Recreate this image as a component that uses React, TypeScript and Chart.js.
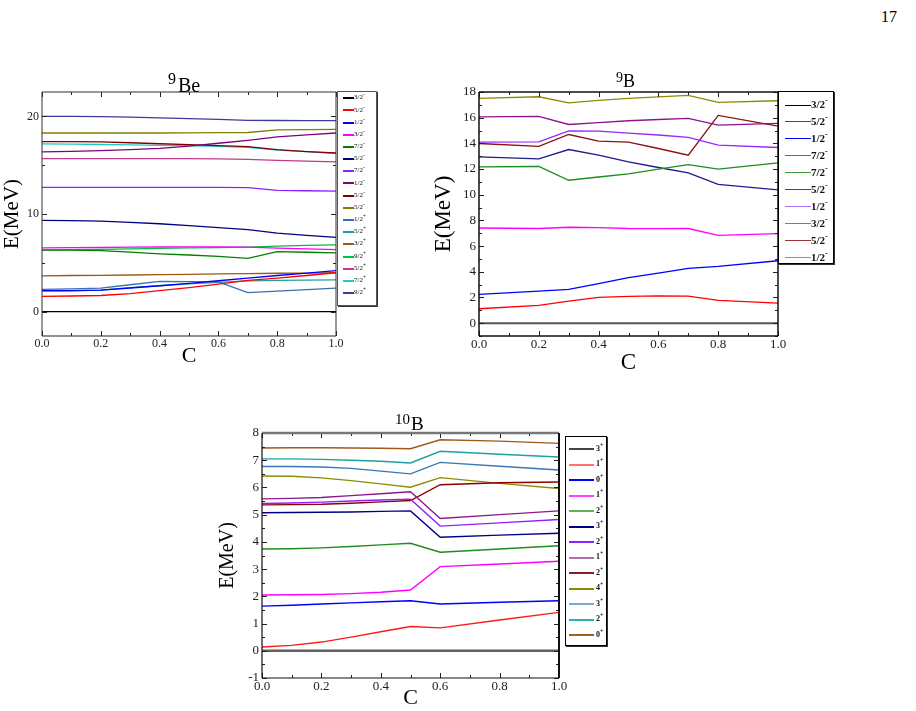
import React, { useEffect, useRef } from 'react';
import { Chart, registerables } from 'chart.js';

Chart.register(...registerables);

const SERIF = '"Liberation Serif", "Times New Roman", serif';

// ---------- 9Be levels ----------
const beC = [0, 0.1, 0.2, 0.3, 0.4, 0.5, 0.6, 0.7, 0.8, 0.9, 1.0];
const beLabels = ['3/2', '5/2', '1/2', '3/2', '7/2', '5/2', '7/2', '1/2', '5/2', '5/2', '1/2', '5/2', '3/2', '9/2', '5/2', '7/2', '9/2'];
const beParity = ['-', '-', '-', '-', '-', '-', '-', '-', '-', '-', '+', '+', '+', '+', '+', '+', '+'];
const beColors = ['#000000', '#ff0000', '#0000ff', '#ff00ff', '#008000', '#000080', '#8f1fff', '#800080', '#800000', '#808000', '#3a70b0', '#20a0a0', '#a0560f', '#00c040', '#c03c8c', '#20c8c8', '#3c3c9c'];
const be32m = [0, 0, 0, 0, 0, 0, 0, 0, 0, 0, 0];
const be52m = [1.57, 1.6, 1.65, 1.85, 2.14, 2.45, 2.82, 3.2, 3.43, 3.7, 3.98];
const be12m = [2.14, 2.15, 2.2, 2.42, 2.65, 2.9, 3.16, 3.43, 3.7, 3.95, 4.2];
const be32mB = [6.53, 6.55, 6.57, 6.6, 6.62, 6.63, 6.63, 6.6, 6.5, 6.42, 6.35];
const be72m = [6.3, 6.3, 6.25, 6.1, 5.92, 5.8, 5.65, 5.45, 6.15, 6.08, 6.02];
const be52mB = [9.35, 9.33, 9.28, 9.15, 9.0, 8.8, 8.6, 8.4, 8.05, 7.8, 7.6];
const be72mB = [12.72, 12.72, 12.72, 12.72, 12.72, 12.72, 12.72, 12.7, 12.42, 12.38, 12.35];
const be12mB = [16.36, 16.42, 16.5, 16.6, 16.72, 16.95, 17.25, 17.55, 17.9, 18.1, 18.3];
const be52mC = [17.42, 17.42, 17.38, 17.3, 17.2, 17.1, 17.0, 16.9, 16.6, 16.4, 16.25];
const be52mD = [18.3, 18.3, 18.3, 18.3, 18.3, 18.32, 18.34, 18.35, 18.62, 18.65, 18.68];
const be12p = [2.28, 2.32, 2.4, 2.75, 3.1, 3.08, 3.05, 1.95, 2.1, 2.25, 2.4];
const be52p = [2.1, 2.12, 2.2, 2.45, 2.65, 2.85, 3.0, 3.15, 3.2, 3.23, 3.26];
const be32p = [3.67, 3.7, 3.72, 3.75, 3.78, 3.82, 3.86, 3.9, 3.93, 3.95, 3.98];
const be92p = [6.33, 6.35, 6.38, 6.42, 6.47, 6.52, 6.56, 6.6, 6.7, 6.78, 6.84];
const be52pB = [15.68, 15.68, 15.68, 15.68, 15.68, 15.68, 15.64, 15.6, 15.5, 15.42, 15.34];
const be72p = [17.18, 17.16, 17.12, 17.08, 17.04, 17.0, 16.92, 16.84, 16.55, 16.4, 16.22];
const be92pB = [20.0, 20.0, 19.98, 19.92, 19.85, 19.78, 19.7, 19.6, 19.58, 19.57, 19.56];
const beSeries = [be32m, be52m, be12m, be32mB, be72m, be52mB, be72mB, be12mB, be52mC, be52mD, be12p, be52p, be32p, be92p, be52pB, be72p, be92pB];
const beYTicks = [0, 10, 20];

// ---------- 9B levels ----------
const bC = [0, 0.2, 0.3, 0.4, 0.5, 0.6, 0.7, 0.8, 1.0];
const bLabels = ['3/2', '5/2', '1/2', '7/2', '7/2', '5/2', '1/2', '3/2', '5/2', '1/2'];
const bParity = ['-', '-', '-', '-', '-', '-', '-', '-', '-', '-'];
const bColors = ['#555555', '#ff0000', '#0000ff', '#ff00ff', '#1e8c1e', '#1c1c8c', '#9628ff', '#8c148c', '#8c1010', '#8c8c00'];
const bLegendColors = ['#000000', '#ff0000', '#0000ff', '#ff00ff', '#3a9a3a', '#4040a0', '#b070ff', '#a860a8', '#a03030', '#a0a020'];
const b32m = [0, 0, 0, 0, 0, 0, 0, 0, 0];
const b52m = [1.12, 1.38, 1.72, 2.0, 2.08, 2.12, 2.1, 1.77, 1.56];
const b12m = [2.24, 2.5, 2.63, 3.08, 3.54, 3.9, 4.27, 4.42, 4.86];
const b72m = [7.41, 7.37, 7.47, 7.44, 7.37, 7.36, 7.37, 6.84, 6.97];
const b72mB = [12.17, 12.2, 11.13, 11.38, 11.62, 12.0, 12.35, 11.99, 12.48];
const b52mB = [12.95, 12.8, 13.52, 13.08, 12.56, 12.12, 11.7, 10.8, 10.38];
const b12mB = [14.1, 14.12, 14.98, 14.95, 14.8, 14.65, 14.46, 13.86, 13.68];
const b32mB = [16.07, 16.1, 15.47, 15.62, 15.76, 15.86, 15.94, 15.42, 15.55];
const b52mC = [13.99, 13.76, 14.69, 14.17, 14.1, 13.6, 13.08, 16.18, 15.34];
const b12mC = [17.5, 17.63, 17.16, 17.35, 17.5, 17.62, 17.73, 17.19, 17.32];
const bSeries = [b32m, b52m, b12m, b72m, b72mB, b52mB, b12mB, b32mB, b52mC, b12mC];
const bYTicks = [0, 2, 4, 6, 8, 10, 12, 14, 16, 18];

// ---------- 10B levels ----------
const tC = [0, 0.1, 0.2, 0.3, 0.4, 0.5, 0.6, 0.8, 1.0];
const tLabels = ['3', '1', '0', '1', '2', '3', '2', '1', '2', '4', '3', '2', '0'];
const tParity = ['+', '+', '+', '+', '+', '+', '+', '+', '+', '+', '+', '+', '+'];
const tColors = ['#606060', '#ff1a1a', '#0000ff', '#ff00ff', '#1e8c1e', '#000080', '#8f1fff', '#8c1a8c', '#8b0000', '#8c8c00', '#3a78b4', '#20a0a0', '#9c5a1e'];
const tLegendColors = ['#444444', '#ff7070', '#0000ff', '#ff40ff', '#60b060', '#000080', '#8f1fff', '#b070b0', '#8b2020', '#8c8c00', '#80a8d0', '#30b0b0', '#a0601e'];
const t3p = [0, 0, 0, 0, 0, 0, 0, 0, 0];
const t1p = [0.14, 0.2, 0.32, 0.5, 0.7, 0.89, 0.84, 1.13, 1.41];
const t0p = [1.64, 1.67, 1.72, 1.76, 1.8, 1.84, 1.72, 1.78, 1.84];
const t1pB = [2.05, 2.06, 2.07, 2.1, 2.15, 2.23, 3.09, 3.19, 3.29];
const t2p = [3.74, 3.75, 3.78, 3.83, 3.89, 3.95, 3.62, 3.74, 3.86];
const t3pB = [5.07, 5.08, 5.09, 5.1, 5.12, 5.14, 4.17, 4.25, 4.32];
const t2pB = [5.41, 5.43, 5.46, 5.5, 5.54, 5.57, 4.58, 4.7, 4.82];
const t1pC = [5.58, 5.6, 5.63, 5.7, 5.77, 5.84, 4.86, 5.0, 5.14];
const t2pC = [5.36, 5.37, 5.38, 5.42, 5.47, 5.52, 6.1, 6.17, 6.2];
const t4p = [6.42, 6.41, 6.35, 6.25, 6.13, 6.01, 6.36, 6.15, 5.96];
const t3pC = [6.77, 6.77, 6.75, 6.7, 6.6, 6.5, 6.92, 6.78, 6.64];
const t2pD = [7.05, 7.05, 7.03, 7.0, 6.96, 6.9, 7.33, 7.22, 7.12];
const t0pB = [7.45, 7.46, 7.46, 7.45, 7.44, 7.42, 7.75, 7.7, 7.62];
const tSeries = [t3p, t1p, t0p, t1pB, t2p, t3pB, t2pB, t1pC, t2pC, t4p, t3pC, t2pD, t0pB];
const tYTicks = [-1, 0, 1, 2, 3, 4, 5, 6, 7, 8];

const xTicks = [0, 0.2, 0.4, 0.6, 0.8, 1.0];

// Plot frame with inward major/minor tick marks on all four sides
const framePlugin = {
  id: 'frame',
  afterDatasetsDraw(chart: any, _args: any, o: any) {
    const { ctx, chartArea: a } = chart;
    const xs = chart.scales.x;
    const ys = chart.scales.y;
    ctx.save();
    ctx.strokeStyle = '#222';
    ctx.lineWidth = 1;
    const xMajor: number[] = xs.ticks.map((t: any) => t.value);
    const yMajor: number[] = ys.ticks.map((t: any) => t.value);
    const minors = (arr: number[], lo: number, hi: number) => {
      const out: number[] = [];
      const step = arr[1] - arr[0];
      for (let v = arr[0] - step / 2; v <= hi + 1e-9; v += step) if (v >= lo - 1e-9) out.push(v);
      return out;
    };
    const xMinor = minors(xMajor, xs.min, xs.max);
    const yMinor = minors(yMajor, ys.min, ys.max);
    ctx.beginPath();
    const xt = (v: number, len: number) => {
      const p = Math.round(xs.getPixelForValue(v)) + 0.5;
      ctx.moveTo(p, a.bottom); ctx.lineTo(p, a.bottom - len);
      ctx.moveTo(p, a.top); ctx.lineTo(p, a.top + len);
    };
    const yt = (v: number, len: number) => {
      const p = Math.round(ys.getPixelForValue(v)) + 0.5;
      ctx.moveTo(a.left, p); ctx.lineTo(a.left + len, p);
      ctx.moveTo(a.right, p); ctx.lineTo(a.right - len, p);
    };
    xMajor.forEach((v) => xt(v, 5));
    xMinor.forEach((v) => xt(v, 3));
    yMajor.forEach((v) => yt(v, 5));
    yMinor.forEach((v) => yt(v, 3));
    ctx.stroke();
    const side = (c: string, w: number, x1: number, y1: number, x2: number, y2: number) => {
      ctx.beginPath();
      ctx.strokeStyle = c;
      ctx.lineWidth = w;
      ctx.moveTo(x1, y1);
      ctx.lineTo(x2, y2);
      ctx.stroke();
    };
    const s = o.sides;
    side(s.top[0], s.top[1], a.left, a.top, a.right, a.top);
    side(s.bottom[0], s.bottom[1], a.left, a.bottom, a.right, a.bottom);
    side(s.left[0], s.left[1], a.left, a.top, a.left, a.bottom);
    side(s.right[0], s.right[1], a.right, a.top, a.right, a.bottom);
    ctx.restore();
  },
};

type PanelProps = {
  left: number; top: number; width: number; height: number;
  padTop: number; padRight: number; yWidth: number; xHeight: number;
  xs: number[]; series: number[][]; colors: string[]; widths: number[];
  yMin: number; yMax: number; yTicks: number[];
  tickSize: number; yTitleSize: number; yTitlePad: number; xTitleSize: number;
  sides: any;
};

function Panel(p: PanelProps) {
  const ref = useRef<HTMLCanvasElement>(null);
  useEffect(() => {
    if (!ref.current) return;
    const datasets = p.series.map((vals, i) => ({
      data: p.xs.map((x, j) => ({ x, y: vals[j] })),
      borderColor: p.colors[i],
      borderWidth: p.widths[i],
      pointRadius: 0,
      tension: 0,
      fill: false,
    }));
    const chart = new Chart(ref.current, {
      type: 'line',
      data: { datasets },
      plugins: [framePlugin],
      options: {
        animation: false,
        responsive: false,
        layout: { padding: { top: p.padTop, right: p.padRight, left: 0, bottom: 0 } },
        plugins: {
          legend: { display: false },
          tooltip: { enabled: false },
          frame: { sides: p.sides },
        } as any,
        scales: {
          x: {
            type: 'linear',
            min: 0,
            max: 1,
            afterBuildTicks: (s: any) => { s.ticks = xTicks.map((v) => ({ value: v })); },
            afterFit: (s: any) => { s.height = p.xHeight; },
            grid: { display: false, drawTicks: false },
            border: { display: false },
            ticks: {
              padding: 1,
              color: '#222',
              font: { family: SERIF, size: p.tickSize },
              maxRotation: 0,
              callback: (v: any) => Number(v).toFixed(1),
            },
            title: {
              display: true,
              text: 'C',
              color: '#000',
              font: { family: SERIF, size: p.xTitleSize, lineHeight: 1 },
              padding: { top: 0, bottom: 0 },
            },
          },
          y: {
            type: 'linear',
            min: p.yMin,
            max: p.yMax,
            afterBuildTicks: (s: any) => { s.ticks = p.yTicks.map((v) => ({ value: v })); },
            afterFit: (s: any) => { s.width = p.yWidth; },
            grid: { display: false, drawTicks: false },
            border: { display: false },
            ticks: {
              padding: 3,
              color: '#222',
              font: { family: SERIF, size: p.tickSize },
              callback: (v: any) => String(v),
            },
            title: {
              display: true,
              text: 'E(MeV)',
              color: '#000',
              font: { family: SERIF, size: p.yTitleSize, lineHeight: 1 },
              padding: { top: p.yTitlePad, bottom: 0 },
            },
          },
        },
      } as any,
    });
    return () => chart.destroy();
  }, []);
  return (
    <canvas
      ref={ref}
      width={p.width}
      height={p.height}
      style={{ position: 'absolute', left: p.left, top: p.top, width: p.width, height: p.height }}
    />
  );
}

type LegendProps = {
  left: number; top: number; width: number; height: number;
  rowTop: number; rowStep: number; lineX: number; lineW: number; textX: number;
  labels: string[]; parity: string[]; colors: string[];
  fontSize: number; bold?: boolean; lineWidth: number; border: string;
};

function Legend(l: LegendProps) {
  return (
    <div
      style={{
        position: 'absolute', left: l.left, top: l.top, width: l.width, height: l.height,
        background: '#fff', border: l.border, boxSizing: 'border-box',
        boxShadow: '1px 1px 0 #333',
      }}
    >
      {l.labels.map((lab, i) => {
        const cy = l.rowTop + i * l.rowStep;
        return (
          <React.Fragment key={i}>
            <div
              style={{
                position: 'absolute', left: l.lineX, top: Math.round(cy - l.lineWidth / 2),
                width: l.lineW, height: l.lineWidth, background: l.colors[i],
              }}
            />
            <div
              style={{
                position: 'absolute', left: l.textX, top: Math.round(cy - l.fontSize * 0.55),
                fontFamily: SERIF, fontSize: l.fontSize, lineHeight: 1,
                fontWeight: l.bold ? 'bold' : 'normal', color: '#111', whiteSpace: 'nowrap',
              }}
            >
              {lab}
              <span style={{ position: 'relative', top: -l.fontSize * 0.45, fontSize: l.fontSize * 0.75 }}>
                {l.parity[i]}
              </span>
            </div>
          </React.Fragment>
        );
      })}
    </div>
  );
}

function Title(t: { x: number; base: number; mass: string; sym: string; massSize: number; symSize: number; symDx: number; symBase: number }) {
  return (
    <>
      <div style={{ position: 'absolute', left: t.x, top: t.base - 0.8375 * t.massSize, fontFamily: SERIF, fontSize: t.massSize, lineHeight: 1, color: '#000' }}>
        {t.mass}
      </div>
      <div style={{ position: 'absolute', left: t.x + t.symDx, top: t.symBase - 0.8375 * t.symSize, fontFamily: SERIF, fontSize: t.symSize, lineHeight: 1, color: '#000' }}>
        {t.sym}
      </div>
    </>
  );
}

export default function App() {
  const beWidths = beSeries.map(() => 1.3);
  const bWidths = bSeries.map((_, i) => (i === 0 ? 2 : 1.3));
  const tWidths = tSeries.map((_, i) => (i === 0 ? 2.5 : 1.4));
  return (
    <div style={{ position: 'absolute', left: 0, top: 0, width: 916, height: 711, background: '#fff', overflow: 'hidden' }}>
      <div style={{ position: 'absolute', left: 881, top: 9, fontFamily: SERIF, fontSize: 16, lineHeight: 1, color: '#000' }}>17</div>

      <Panel
        left={0} top={60} width={348} height={307}
        padTop={32} padRight={12} yWidth={42} xHeight={31}
        xs={beC} series={beSeries} colors={beColors} widths={beWidths}
        yMin={-2.5} yMax={22.5} yTicks={beYTicks}
        tickSize={12} yTitleSize={21} yTitlePad={2} xTitleSize={22}
        sides={{ top: ['#333', 1], bottom: ['#222', 1], left: ['#333', 1], right: ['#333', 1] }}
      />
      <Title x={168} base={84} mass="9" sym="Be" massSize={16} symSize={20} symDx={10} symBase={92} />
      <Legend
        left={337} top={91} width={40} height={215}
        rowTop={6.3} rowStep={12.17} lineX={5} lineW={11} textX={16}
        labels={beLabels} parity={beParity} colors={beColors}
        fontSize={7} lineWidth={2} border="1px solid #555"
      />

      <Panel
        left={420} top={60} width={370} height={314}
        padTop={32} padRight={12} yWidth={59} xHeight={38}
        xs={bC} series={bSeries} colors={bColors} widths={bWidths}
        yMin={-1} yMax={18} yTicks={bYTicks}
        tickSize={13} yTitleSize={23} yTitlePad={12} xTitleSize={23}
        sides={{ top: ['#111', 1.5], bottom: ['#111', 1.5], left: ['#111', 1.5], right: ['#111', 1.5] }}
      />
      <Title x={616} base={83} mass="9" sym="B" massSize={14} symSize={18} symDx={7} symBase={87.5} />
      <Legend
        left={778} top={91} width={56} height={173}
        rowTop={13} rowStep={16.96} lineX={6} lineW={26} textX={32}
        labels={bLabels} parity={bParity} colors={bLegendColors}
        fontSize={11} bold lineWidth={1} border="1.5px solid #000"
      />

      <Panel
        left={200} top={400} width={371} height={309}
        padTop={33} padRight={12} yWidth={62} xHeight={31}
        xs={tC} series={tSeries} colors={tColors} widths={tWidths}
        yMin={-1} yMax={8} yTicks={tYTicks}
        tickSize={13} yTitleSize={20} yTitlePad={18} xTitleSize={22}
        sides={{ top: ['#777', 2.5], bottom: ['#111', 1.2], left: ['#111', 1.2], right: ['#111', 2] }}
      />
      <Title x={395} base={425} mass="10" sym="B" massSize={15} symSize={19} symDx={16} symBase={430} />
      <Legend
        left={565} top={436} width={42} height={210}
        rowTop={12} rowStep={15.5} lineX={3} lineW={25} textX={30}
        labels={tLabels} parity={tParity} colors={tLegendColors}
        fontSize={8} bold lineWidth={2} border="1px solid #000"
      />
    </div>
  );
}
